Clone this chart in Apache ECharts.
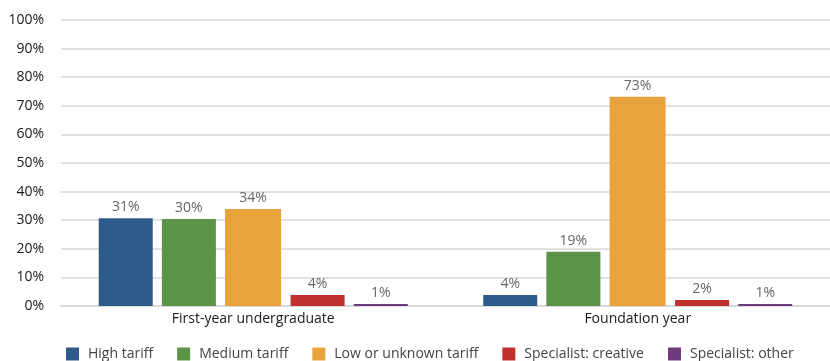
<!DOCTYPE html>
<html><head><meta charset="utf-8">
<script src="https://cdn.jsdelivr.net/npm/echarts@6/dist/echarts.min.js"></script>
<style>html,body{margin:0;padding:0;background:#fff}#c{width:830px;height:361px}</style>
</head><body><div id="c"></div>
<script>
const categories = ["First-year undergraduate", "Foundation year"];
const seriesNames = ["High tariff", "Medium tariff", "Low or unknown tariff", "Specialist: creative", "Specialist: other"];
const highTariff = [30.7, 3.85];
const mediumTariff = [30.4, 19.0];
const lowTariff = [33.9, 73.2];
const specCreative = [3.85, 2.1];
const specOther = [0.7, 0.7];
const yTicks = [0, 10, 20, 30, 40, 50, 60, 70, 80, 90, 100];
const colors = ["#2f5a8c", "#5b9447", "#e8a33c", "#c0302f", "#6f3b7d"];
const values = [highTariff, mediumTariff, lowTariff, specCreative, specOther];
const font = "'Open Sans', 'Noto Sans', sans-serif";
const chart = echarts.init(document.getElementById('c'));
chart.setOption({
  animation: false,
  color: colors,
  grid: { left: 61, top: 20, width: 775, height: 286, containLabel: false },
  legend: {
    top: 347, left: 66, itemWidth: 13, itemHeight: 13, itemGap: 24, padding: 0,
    icon: 'rect',
    textStyle: { fontFamily: font, fontSize: 14, color: '#444', padding: [0, 0, 0, 4] },
    data: seriesNames
  },
  xAxis: {
    type: 'category', data: categories,
    axisLine: { show: true, lineStyle: { color: '#d9d9d9', width: 2 } },
    axisTick: { show: false },
    axisLabel: { fontFamily: font, fontSize: 14, color: '#1a1a1a', margin: 6 }
  },
  yAxis: {
    type: 'value', min: 0, max: 100, interval: 10,
    axisLabel: { formatter: v => yTicks.includes(v) ? v + '%' : '', fontFamily: font, fontSize: 14, color: '#1a1a1a', margin: 17 },
    splitLine: { lineStyle: { color: '#d9d9d9', width: 1.5 } },
    axisLine: { show: false }, axisTick: { show: false }
  },
  series: seriesNames.map((n, i) => ({
    name: n, type: 'bar', data: values[i],
    barWidth: i === 2 ? 56 : 54, barGap: '17%',
    label: { show: true, position: 'top', distance: 4, formatter: p => Math.round(p.value) + '%',
      fontFamily: font, fontSize: 14, color: '#666' }
  }))
});
</script></body></html>
